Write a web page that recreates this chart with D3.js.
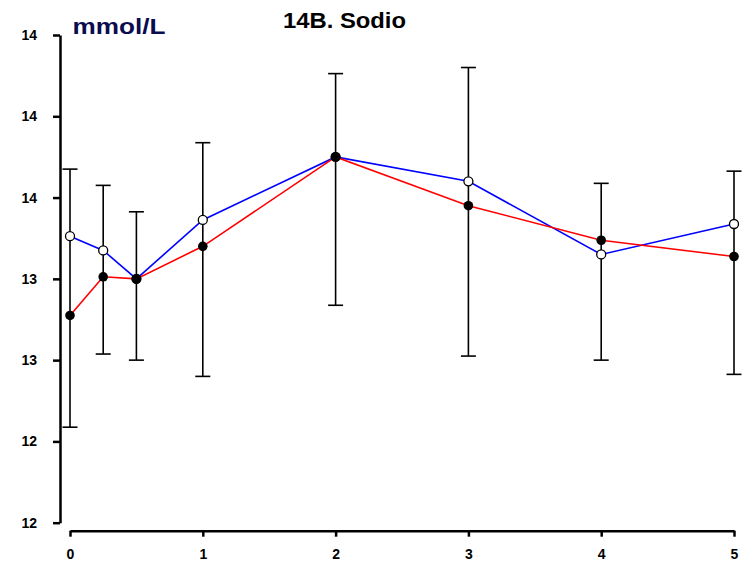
<!DOCTYPE html>
<html>
  <head>
    <meta charset="utf-8">
    <title>14B. Sodio</title>
    <script src="https://d3js.org/d3.v7.min.js"></script>
    <style>
      body { margin: 0; background: #fff; }
      text { font-family: Arial, "Liberation Sans", sans-serif; }
    </style>
  </head>
  <body>
    <div id="vis"></div>
    <script>
        const width = 750;
        const height = 563;

        // time points (x) and values
        const times = [0, 0.25, 0.5, 1, 2, 3, 4, 5];
        const redValues = [13.02, 13.21, 13.20, 13.36, 13.80, 13.56, 13.39, 13.31];
        const blueValues = [13.41, 13.34, 13.20, 13.49, 13.80, 13.68, 13.32, 13.47];
        const barTop = [13.74, 13.66, 13.53, 13.87, 14.21, 14.24, 13.67, 13.73];
        const barBottom = [12.47, 12.83, 12.80, 12.72, 13.07, 12.82, 12.80, 12.73];
        const yTicks = [12.0, 12.4, 12.8, 13.2, 13.6, 14.0, 14.4];
        const xTicks = [0, 1, 2, 3, 4, 5];

        let vis = d3.select("#vis")
                      .append("svg")
                      .attr("width", width)
                      .attr("height", height);

        const x = d3.scaleLinear().domain([0, 5]).range([70, 734]);
        const y = d3.scaleLinear().domain([12, 14.4]).range([522.7, 35]);

        // y axis
        const yAxis = vis.append("g")
                         .attr("transform", "translate(60,0)")
                         .call(d3.axisLeft(y)
                                 .tickValues(yTicks)
                                 .tickFormat(d3.format(".0f"))
                                 .tickSize(7)
                                 .tickSizeOuter(0)
                                 .tickPadding(16));

        // x axis, detached below the y axis
        const xAxis = vis.append("g")
                         .attr("transform", "translate(0,530.7)")
                         .call(d3.axisBottom(x)
                                 .tickValues(xTicks)
                                 .tickFormat(d3.format("d"))
                                 .tickSize(6)
                                 .tickSizeOuter(0)
                                 .tickPadding(12));

        vis.selectAll(".domain").attr("stroke", "#000").attr("stroke-width", 2.5);
        vis.selectAll(".tick line").attr("stroke", "#000").attr("stroke-width", 2.5);
        vis.selectAll(".tick text")
           .attr("font-size", 14)
           .attr("font-weight", "bold")
           .attr("fill", "#000");

        // lines
        const redData = times.map((t, i) => ({t: t, v: redValues[i]}));
        const blueData = times.map((t, i) => ({t: t, v: blueValues[i]}));
        const line = d3.line().x(d => x(d.t)).y(d => y(d.v));

        vis.append("path")
           .datum(blueData)
           .attr("d", line)
           .attr("fill", "none")
           .attr("stroke", "#0000ff")
           .attr("stroke-width", 1.6);

        vis.append("path")
           .datum(redData)
           .attr("d", line)
           .attr("fill", "none")
           .attr("stroke", "#ff0000")
           .attr("stroke-width", 1.6);

        // error bars
        const bars = vis.append("g")
                        .selectAll("g")
                        .data(times.map((t, i) => ({t: t, hi: barTop[i], lo: barBottom[i]})))
                        .enter()
                        .append("g")
                        .attr("stroke", "#000")
                        .attr("stroke-width", 1.6);

        bars.append("line")
            .attr("x1", d => x(d.t)).attr("x2", d => x(d.t))
            .attr("y1", d => y(d.hi)).attr("y2", d => y(d.lo));
        bars.append("line")
            .attr("x1", d => x(d.t) - 7.5).attr("x2", d => x(d.t) + 7.5)
            .attr("y1", d => y(d.hi)).attr("y2", d => y(d.hi));
        bars.append("line")
            .attr("x1", d => x(d.t) - 7.5).attr("x2", d => x(d.t) + 7.5)
            .attr("y1", d => y(d.lo)).attr("y2", d => y(d.lo));

        // markers
        vis.append("g")
           .selectAll("circle")
           .data(blueData)
           .enter()
           .append("circle")
           .attr("cx", d => x(d.t))
           .attr("cy", d => y(d.v))
           .attr("r", 4.5)
           .attr("fill", "#fff")
           .attr("stroke", "#000")
           .attr("stroke-width", 1.3);

        vis.append("g")
           .selectAll("circle")
           .data(redData)
           .enter()
           .append("circle")
           .attr("cx", d => x(d.t))
           .attr("cy", d => y(d.v))
           .attr("r", 4.8)
           .attr("fill", "#000");

        // titles
        vis.append("text")
           .attr("x", 283)
           .attr("y", 28)
           .attr("font-size", 22)
           .attr("font-weight", "bold")
           .attr("fill", "#000")
           .attr("textLength", 123)
           .attr("lengthAdjust", "spacingAndGlyphs")
           .text("14B. Sodio");

        vis.append("text")
           .attr("x", 72.5)
           .attr("y", 34)
           .attr("font-size", 22)
           .attr("font-weight", "bold")
           .attr("fill", "#0b0b4f")
           .attr("textLength", 93)
           .attr("lengthAdjust", "spacingAndGlyphs")
           .text("mmol/L");
    </script>
  </body>
</html>
